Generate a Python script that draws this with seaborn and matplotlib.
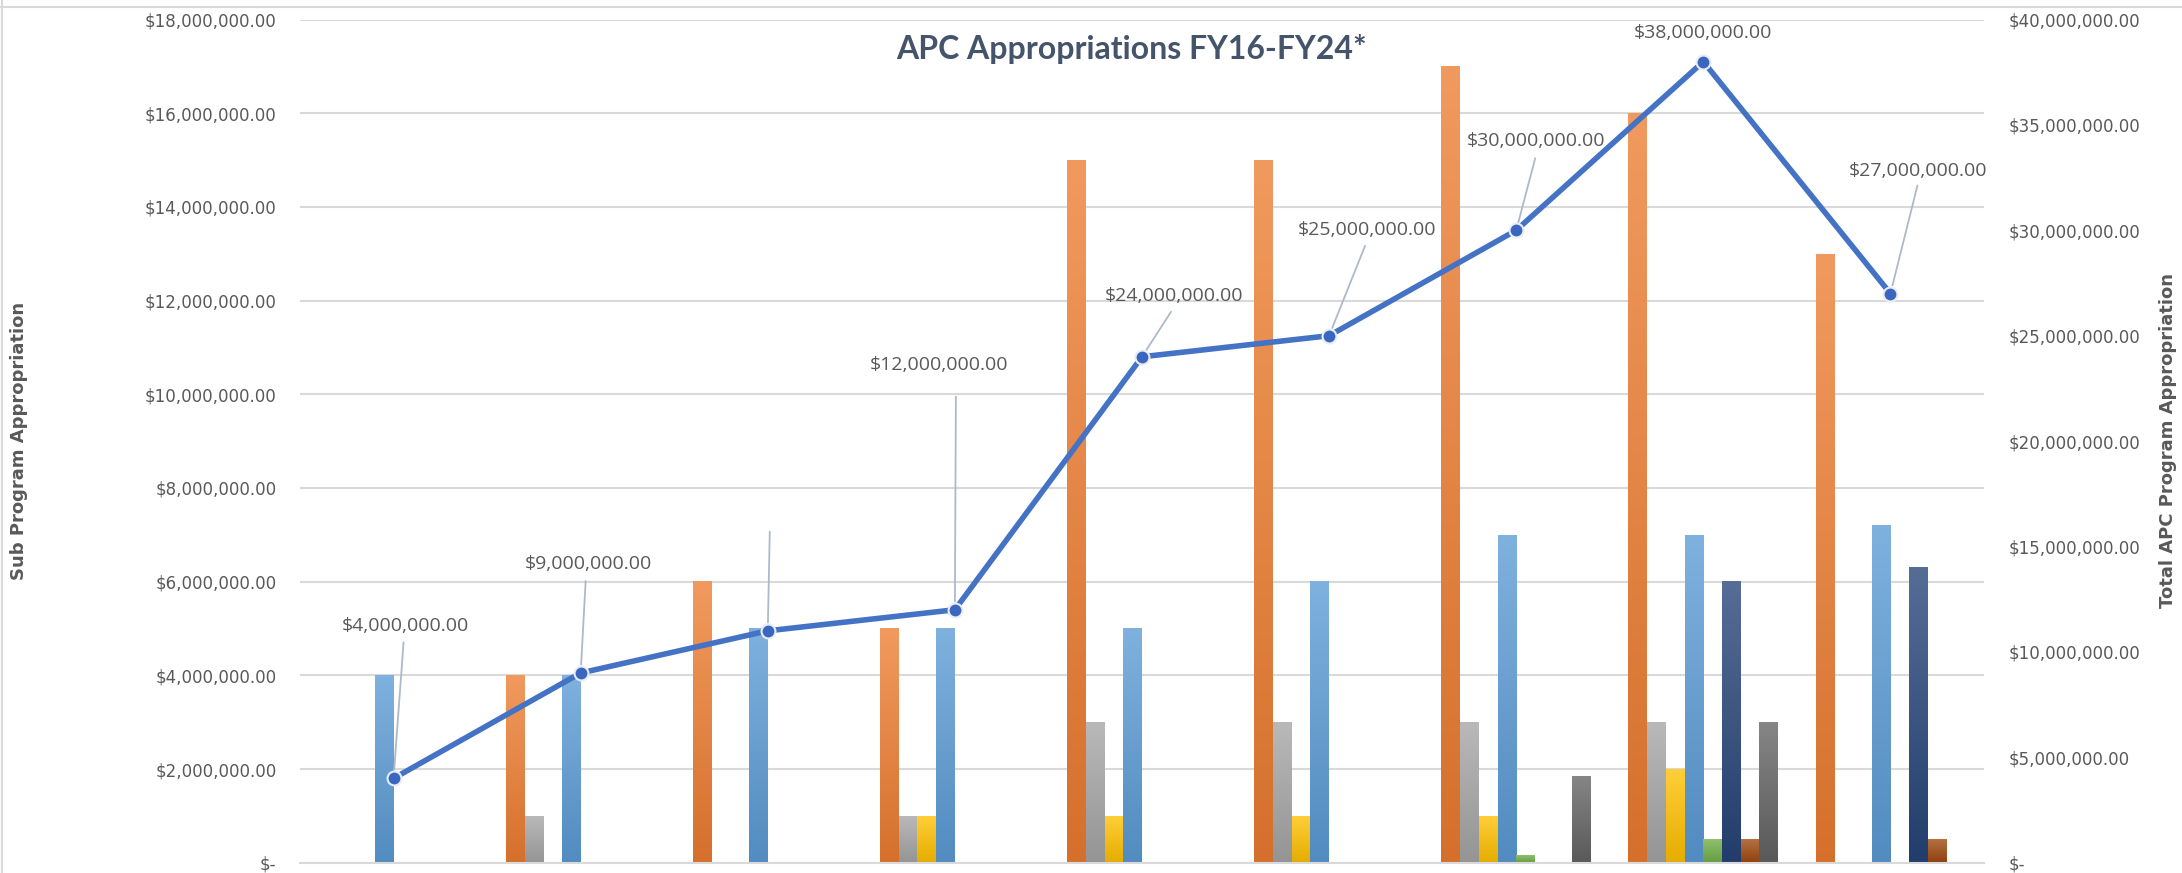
import numpy as np
import pandas as pd
import matplotlib
matplotlib.use("Agg")
import matplotlib.pyplot as plt
import seaborn as sns
from matplotlib.colors import to_rgb
from matplotlib.ticker import FuncFormatter, MultipleLocator, FixedLocator

# Datos (millones de dólares)
years = ["FY16", "FY17", "FY18", "FY19", "FY20", "FY21", "FY22", "FY23", "FY24"]
sub_program_1 = [0, 4, 6, 5, 15, 15, 17, 16, 13]
sub_program_2 = [0, 1, 0, 1, 3, 3, 3, 3, 0]
sub_program_3 = [0, 0, 0, 1, 1, 1, 1, 2, 0]
sub_program_4 = [4, 4, 5, 5, 5, 6, 7, 7, 7.2]
sub_program_5 = [0, 0, 0, 0, 0, 0, 0.15, 0.5, 0]
sub_program_6 = [0, 0, 0, 0, 0, 0, 0, 6, 6.3]
sub_program_7 = [0, 0, 0, 0, 0, 0, 0, 0.5, 0.5]
sub_program_8 = [0, 0, 0, 0, 0, 0, 1.85, 3, 0]
total_apc = [4, 9, 11, 12, 24, 25, 30, 38, 27]

sub_programs = {
    "Sub Program 1": sub_program_1,
    "Sub Program 2": sub_program_2,
    "Sub Program 3": sub_program_3,
    "Sub Program 4": sub_program_4,
    "Sub Program 5": sub_program_5,
    "Sub Program 6": sub_program_6,
    "Sub Program 7": sub_program_7,
    "Sub Program 8": sub_program_8,
}
bar_colors = ["#ED7D31", "#A5A5A5", "#FFC000", "#5B9BD5",
              "#70AD47", "#264478", "#9E480E", "#636363"]
line_color = "#4472C4"
text_gray = "#595959"
grid_gray = "#D9D9D9"

# posiciones de etiquetas (pixeles relativos al punto) y fin de la linea guia
label_offsets = [(12, 152), (8, 109), None, (-16, 245), (32, 61),
                 (38, 106), (20, 89), (0, 29), (28, 123)]
leader_ends = [(10, 136), (5, 92), (2, 99), (1, 213), (29, 45),
               (36, 90), (19, 72), None, (27, 108)]

rows = []
for name, vals in sub_programs.items():
    for fy, v in zip(years, vals):
        if v > 0:
            rows.append({"FY": fy, "Sub Program": name, "Appropriation": v * 1e6})
df = pd.DataFrame(rows)

sns.set_style("white")

fig = plt.figure(figsize=(21.82, 8.73), dpi=100)
ax = fig.add_axes([300 / 2182, 10.3 / 873, 1684 / 2182, 843.2 / 873])

sns.barplot(data=df, x="FY", y="Appropriation", hue="Sub Program",
            order=years, hue_order=list(sub_programs.keys()),
            palette=bar_colors, saturation=1, errorbar=None, width=0.8,
            legend=False, ax=ax)

# degradado de Excel en las barras
for bar in list(ax.patches):
    h = bar.get_height()
    if not np.isfinite(h) or h <= 0:
        continue
    x0, w = bar.get_x(), bar.get_width()
    base = np.array(to_rgb(bar.get_facecolor()))
    top = base + (1 - base) * 0.22
    bot = base * 0.9
    t = np.linspace(0, 1, 64)[:, None]
    grad = bot * (1 - t) + top * t
    ax.imshow(grad[:, None, :], extent=(x0, x0 + w, 0, h), origin="lower",
              aspect="auto", zorder=2, interpolation="bilinear")
    bar.set_visible(False)

ax.set_xlim(-0.5, len(years) - 0.5)
ax.set_ylim(0, 18e6)
ax.set_xlabel("")
ax.set_ylabel("")

money = FuncFormatter(lambda v, p: "$-" if v == 0 else f"${v:,.2f}")
ax.yaxis.set_major_locator(MultipleLocator(2e6))
ax.yaxis.set_major_formatter(money)
ax.yaxis.grid(True, color=grid_gray, linewidth=1.5)
ax.set_axisbelow(True)
ax.tick_params(axis="y", length=0, pad=17, labelsize=12, labelcolor=text_gray)

ax.set_xticks(np.arange(len(years)))
ax.set_xticklabels(years)
ax.xaxis.set_minor_locator(FixedLocator(np.arange(-0.5, len(years), 1)))
ax.tick_params(axis="x", which="major", length=0, pad=7, labelsize=12,
               labelcolor=text_gray)
ax.tick_params(axis="x", which="minor", length=20, width=1.5, color=grid_gray)

for s in ["top", "left", "right"]:
    ax.spines[s].set_visible(False)
ax.spines["bottom"].set_color(grid_gray)
ax.spines["bottom"].set_linewidth(1.5)

# eje secundario: total del programa
ax2 = ax.twinx()
pos = np.arange(len(years))
totals = np.array(total_apc) * 1e6
sns.lineplot(x=pos, y=totals, ax=ax2, color=line_color, linewidth=4,
             marker="o", markersize=10, markerfacecolor="#3A66C0",
             markeredgecolor="#E8ECF4", markeredgewidth=1.5, zorder=5)
ax2.set_ylim(0, 40e6)
ax2.yaxis.set_major_locator(MultipleLocator(5e6))
ax2.yaxis.set_major_formatter(money)
ax2.tick_params(axis="y", length=0, pad=18, labelsize=12, labelcolor=text_gray)
ax2.set_ylabel("")
for s in ax2.spines.values():
    s.set_visible(False)

for i, tot in enumerate(totals):
    if leader_ends[i] is not None:
        ax2.annotate("", xy=(i, tot), xytext=leader_ends[i],
                     textcoords="offset pixels",
                     arrowprops=dict(arrowstyle="-", color="#ADB9CA", lw=1.3,
                                     shrinkA=0, shrinkB=6))
    if label_offsets[i] is not None:
        ax2.annotate(f"${tot:,.2f}", xy=(i, tot), xytext=label_offsets[i],
                     textcoords="offset pixels", ha="center", va="center",
                     fontsize=14, family=["Open Sans", "DejaVu Sans"],
                     color=text_gray)

fig.text(1131 / 2182, 1 - 49 / 873, "APC Appropriations FY16-FY24*",
         ha="center", va="center", fontsize=23, fontweight="bold",
         family=["Lato", "DejaVu Sans"], color="#44546A")
fig.text(19 / 2182, 1 - 441 / 873, "Sub Program Appropriation", rotation=90,
         ha="center", va="center", fontsize=13, fontweight="bold",
         family=["Liberation Sans Narrow", "DejaVu Sans"], color=text_gray)
fig.text(2168 / 2182, 1 - 441 / 873, "Total APC Program Appropriation",
         rotation=90, ha="center", va="center", fontsize=13,
         fontweight="bold", family=["Liberation Sans Narrow", "DejaVu Sans"],
         color=text_gray)

# borde del area del grafico
fig.add_artist(plt.Line2D([0, 1], [1 - 6.5 / 873] * 2, color=grid_gray,
                          lw=1.5, transform=fig.transFigure))
fig.add_artist(plt.Line2D([1.5 / 2182] * 2, [0, 1], color=grid_gray,
                          lw=1.5, transform=fig.transFigure))

fig.savefig("out.png", dpi=100)
